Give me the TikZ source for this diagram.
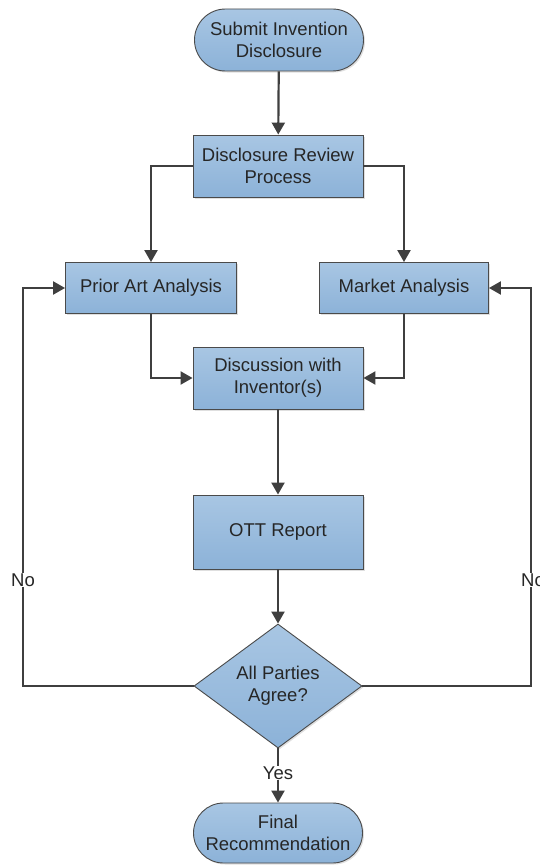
\documentclass[tikz,border=0pt]{standalone}
\usepackage{fontspec}
\setmainfont{Liberation Sans}
\usetikzlibrary{shapes.geometric,shapes.misc,arrows.meta,shadows}
\definecolor{boxtop}{HTML}{A8C6E3}
\definecolor{boxbot}{HTML}{8CB2D8}
\definecolor{boxline}{HTML}{4A4A4A}
\definecolor{conn}{HTML}{3F3F3F}
\tikzset{
  base/.style={draw=boxline, line width=0.9pt, top color=boxtop, bottom color=boxbot,
    align=center, font=\fontsize{18.5}{22}\selectfont, text=black!85,
    drop shadow={shadow xshift=1.5pt, shadow yshift=-1.5pt, opacity=0.25}},
  procbox/.style={base, rectangle, minimum width=170pt, minimum height=62pt, inner sep=0pt},
  termbox/.style={base, rounded rectangle, minimum width=169pt, minimum height=62pt, inner sep=0pt},
  decbox/.style={base, diamond, minimum width=168pt, minimum height=124pt, inner sep=0pt, aspect=1.4},
  conn/.style={draw=conn, line width=2.2pt, -{Triangle[length=12pt,width=13pt]}},
  lbl/.style={fill=white, inner sep=1pt, font=\fontsize{18.5}{22}\selectfont, text=black!85}
}
\begin{document}
\begin{tikzpicture}[x=1pt,y=-1pt]
\useasboundingbox (0,0) rectangle (540,867);
\node[termbox] (start) at (279,40) {Submit Invention\\Disclosure};
\node[procbox] (review) at (278,166) {Disclosure Review\\Process};
\node[procbox, minimum height=51pt, minimum width=171pt] (prior) at (151,288) {Prior Art Analysis};
\node[procbox, minimum height=51pt, minimum width=169pt] (market) at (404,288) {Market Analysis};
\node[procbox] (disc) at (278,378) {Discussion with\\Inventor(s)};
\node[procbox, minimum height=74pt] (ott) at (278,532) {OTT Report};
\node[decbox] (dec) at (278,686) {All Parties\\Agree?};
\node[termbox, minimum height=60pt] (final) at (278,833) {Final\\Recommendation};

\draw[conn] (start) -- (review);
\draw[conn] (review.west) -| (prior.north);
\draw[conn] (review.east) -| (market.north);
\draw[conn] (prior.south) |- (disc.west);
\draw[conn] (market.south) |- (disc.east);
\draw[conn] (disc) -- (ott);
\draw[conn] (ott) -- (dec);
\coordinate (ltop) at (23,288);
\coordinate (rtop) at (531,288);
\draw[conn] (dec.west) -- (dec.west -| ltop) -- (ltop) -- (prior.west);
\draw[conn] (dec.east) -- (dec.east -| rtop) -- (rtop) -- (market.east);
\draw[conn] (dec.south) -- (final.north);
\node[lbl] (no1) at (23,580) {No};
\node[lbl] (no2) at (533,580) {No};
\node[lbl] (yes) at (278,773) {Yes};
\end{tikzpicture}
\end{document}
